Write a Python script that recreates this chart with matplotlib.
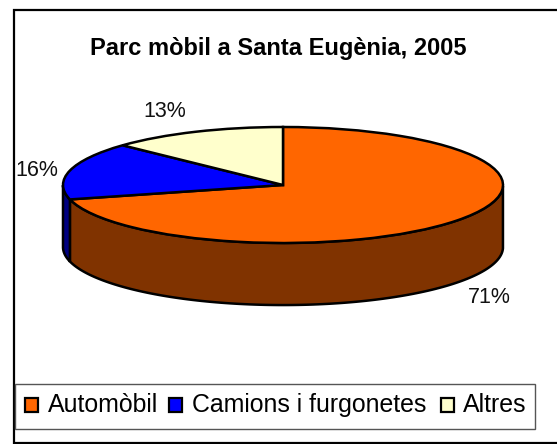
import matplotlib
matplotlib.use("Agg")
import matplotlib.pyplot as plt
import numpy as np
from matplotlib.patches import Rectangle

categories = ["Automòbil", "Camions i furgonetes", "Altres"]
values = [71, 16, 13]
pct_labels = ["71%", "16%", "13%"]
colors = ["#FF6600", "#0000FF", "#FFFFCC"]
side_colors = ["#803300", "#000080", "#808066"]
title = "Parc mòbil a Santa Eugènia, 2005"

W, H = 557, 444
plt.rcParams["font.family"] = ["Liberation Sans", "DejaVu Sans"]

fig = plt.figure(figsize=(W / 100, H / 100), dpi=100)

# background layer in pixel coords, y down
bg = fig.add_axes([0, 0, 1, 1])
bg.set_xlim(0, W)
bg.set_ylim(H, 0)
bg.axis("off")
bg.add_patch(Rectangle((13.5, 10.5), 560, 432, fc="white", ec="black", lw=1.6))

# pie axes: squashed so that the unit circle becomes the top ellipse
cx, cy, rx, ry = 283, 185, 220, 58
depth = 1.07  # in y units of the pie axes
ax = fig.add_axes([(cx - rx) / W, 1 - (cy + ry) / H - 2 * depth * ry / H / 2,
                   2 * rx / W, (2 * ry + depth * ry) / H])
ax.set_xlim(-1, 1)
ax.set_ylim(-1 - depth, 1)
ax.axis("off")

# side wall, only the front half shows
angles = np.cumsum([0] + values) * 3.6
for i in range(len(values)):
    # clockwise from 12 o'clock, converted to plain math angle
    a0, a1 = 90 - angles[i + 1], 90 - angles[i]
    t = np.radians(np.linspace(a0, a1, 200))
    t = t[np.sin(t) <= 0]
    if len(t) == 0:
        continue
    x, y = np.cos(t), np.sin(t)
    ax.fill(np.r_[x, x[::-1]], np.r_[y, y[::-1] - depth], fc=side_colors[i], ec="black", lw=1.8, clip_on=False)

ax.pie(values, colors=colors, startangle=90, counterclock=False, radius=1,
       wedgeprops={"edgecolor": "black", "linewidth": 1.8}, normalize=True, frame=True)
ax.set_aspect("auto")
ax.set_xlim(-1, 1)
ax.set_ylim(-1 - depth, 1)
ax.axis("off")

# texts
bg.set_zorder(0)
ax.set_zorder(1)
ax.patch.set_alpha(0)
top = fig.add_axes([0, 0, 1, 1], zorder=2)
top.set_xlim(0, W)
top.set_ylim(H, 0)
top.axis("off")
top.text(278.5, 48, title, ha="center", va="center", fontsize=17.05, fontweight="bold", color="black")
top.text(489, 297, pct_labels[0], ha="center", va="center", fontsize=15.5, color="#111111")
top.text(37, 170, pct_labels[1], ha="center", va="center", fontsize=15.5, color="#111111")
top.text(165, 111, pct_labels[2], ha="center", va="center", fontsize=15.5, color="#111111")

# legend
top.add_patch(Rectangle((14.5, 383.5), 520, 45, fc="white", ec="#555555", lw=1))
swatch_x = [25, 169, 441]
text_x = [47.5, 191.5, 463]
for sx, tx, c, name in zip(swatch_x, text_x, colors, categories):
    top.add_patch(Rectangle((sx, 398), 13, 14, fc=c, ec="black", lw=1.6))
    top.text(tx, 405, name, ha="left", va="center", fontsize=17.9, color="black")

fig.savefig("out.png", dpi=100)
